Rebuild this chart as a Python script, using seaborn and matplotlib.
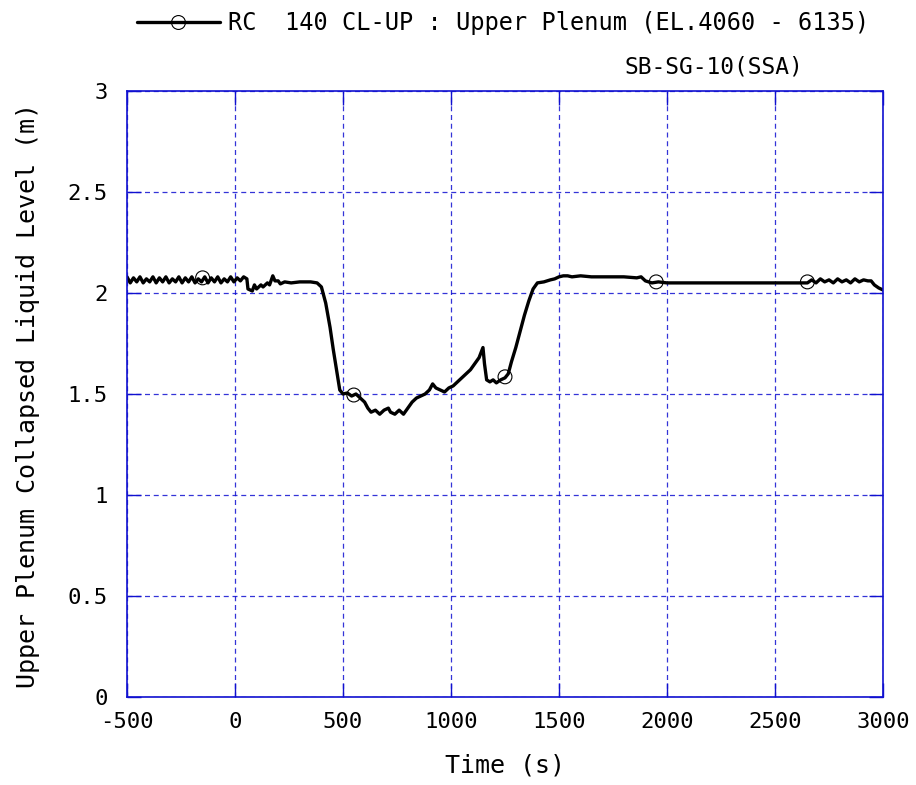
import numpy as np
import pandas as pd
import matplotlib
matplotlib.use("Agg")
import matplotlib.pyplot as plt
from matplotlib.lines import Line2D
import seaborn as sns

# ---- data ----
time_s = [-500, -485, -470, -455, -440, -425, -410, -395, -380, -365, -350, -335,
          -320, -305, -290, -275, -260, -245, -230, -215, -200, -185, -170, -155,
          -140, -125, -110, -95, -80, -65, -50, -35, -20, -5, 10, 25, 40, 55,
          60, 80, 90, 100, 120, 130, 150, 160, 175, 185, 200, 210, 230, 260, 300,
          350, 380, 400, 420, 440, 455, 470, 485, 500, 520, 540, 560, 580, 600,
          615, 630, 650, 670, 690, 710, 720, 740, 760, 780, 800, 820, 840, 860,
          880, 900, 915, 930, 950, 970, 990, 1010, 1030, 1050, 1070, 1090, 1110,
          1130, 1148, 1155, 1165, 1180, 1195, 1210, 1230, 1250, 1265, 1280, 1300,
          1320, 1340, 1360, 1380, 1400, 1430, 1460, 1480, 1500, 1520, 1540, 1560,
          1600, 1650, 1700, 1750, 1800, 1860, 1880, 1900, 1930, 1960, 2000, 2100,
          2200, 2300, 2400, 2500, 2600, 2650, 2670, 2690, 2710, 2730, 2750, 2770,
          2790, 2810, 2830, 2850, 2870, 2890, 2910, 2930, 2945, 2960, 2980, 3000]
level_m = [2.08, 2.05, 2.075, 2.055, 2.08, 2.05, 2.07, 2.055, 2.08, 2.05, 2.075, 2.055,
           2.08, 2.05, 2.07, 2.055, 2.08, 2.05, 2.075, 2.055, 2.08, 2.05, 2.07, 2.055,
           2.08, 2.05, 2.075, 2.055, 2.08, 2.05, 2.07, 2.055, 2.08, 2.055, 2.075, 2.06,
           2.08, 2.07,
           2.02, 2.01, 2.04, 2.02, 2.04, 2.03, 2.05, 2.04, 2.085, 2.06, 2.06, 2.045,
           2.055, 2.05, 2.055, 2.055, 2.05, 2.03, 1.95, 1.83, 1.72, 1.62, 1.52, 1.50,
           1.505, 1.49, 1.50, 1.48, 1.46, 1.43, 1.41, 1.42, 1.40, 1.42, 1.43, 1.41,
           1.40, 1.42, 1.40, 1.43, 1.46, 1.48, 1.49, 1.50, 1.52, 1.55, 1.53, 1.52,
           1.51, 1.53, 1.54, 1.56, 1.58, 1.60, 1.62, 1.65, 1.68, 1.73, 1.65, 1.57,
           1.56, 1.57, 1.555, 1.57, 1.58, 1.60, 1.66, 1.73, 1.81, 1.89, 1.96, 2.02,
           2.05, 2.055, 2.065, 2.07, 2.08, 2.085, 2.085, 2.08, 2.085, 2.08, 2.08,
           2.08, 2.08, 2.075, 2.08, 2.06, 2.05, 2.055, 2.05, 2.05, 2.05, 2.05, 2.05,
           2.05, 2.05, 2.05, 2.065, 2.05, 2.07, 2.055, 2.065, 2.05, 2.07, 2.055,
           2.065, 2.05, 2.07, 2.055, 2.065, 2.06, 2.06, 2.04, 2.025, 2.015]
marker_t = [-150, 550, 1250, 1950, 2650]
marker_v = [2.075, 1.495, 1.585, 2.055, 2.055]

x_ticks = [-500, 0, 500, 1000, 1500, 2000, 2500, 3000]
y_ticks = [0, 0.5, 1, 1.5, 2, 2.5, 3]
y_ticklabels = ["0", "0.5", "1", "1.5", "2", "2.5", "3"]
series_label = "RC  140 CL-UP : Upper Plenum (EL.4060 - 6135)"
case_label = "SB-SG-10(SSA)"

df = pd.DataFrame({"t": time_s, "v": level_m})
dfm = pd.DataFrame({"t": marker_t, "v": marker_v})

sns.set_theme(style="white")
plt.rcParams["font.family"] = ["DejaVu Sans Mono", "DejaVu Sans"]
plt.rcParams["text.color"] = "black"
plt.rcParams["axes.labelcolor"] = "black"

fig = plt.figure(figsize=(9.16, 7.85), dpi=100)
ax = fig.add_axes([127 / 916, 1 - 697 / 785, 756 / 916, 606 / 785])

blue = "#1010d0"
sns.lineplot(data=df, x="t", y="v", ax=ax, color="black", lw=2.4,
             estimator=None, sort=False, legend=False)
sns.scatterplot(data=dfm, x="t", y="v", ax=ax, marker="o", s=100,
                facecolor="none", edgecolor="black", linewidth=0.8,
                legend=False, zorder=5)

ax.set_xlim(-500, 3000)
ax.set_ylim(0, 3)
ax.set_xticks(x_ticks)
ax.set_xticklabels([str(v) for v in x_ticks], fontsize=16)
ax.set_yticks(y_ticks)
ax.set_yticklabels(y_ticklabels, fontsize=16)
ax.tick_params(direction="in", length=10, width=1, color=blue, labelcolor="black",
               top=True, right=True, bottom=True, left=True)
ax.tick_params(axis="x", pad=11)
ax.tick_params(axis="y", pad=14)
ax.grid(True, color=blue, linestyle=(0, (4, 3)), lw=0.9, alpha=0.85)
for sp in ax.spines.values():
    sp.set_color(blue)
    sp.set_linewidth(1.2)

ax.set_xlabel("Time (s)", fontsize=18)
ax.set_ylabel("Upper Plenum Collapsed Liquid Level (m)", fontsize=18)
ax.xaxis.set_label_coords(0.5, (697 - 765) / 606, transform=ax.transAxes)
ax.xaxis.label.set_va("center")
ax.yaxis.set_label_coords((28 - 127) / 756, 0.497, transform=ax.transAxes)
ax.yaxis.label.set_va("center")

handle = Line2D([], [], color="black", lw=2.4, marker="o", markersize=10,
                markerfacecolor="none", markeredgecolor="black", markeredgewidth=0.8)
fig.legend([handle], [series_label], loc="center left",
           bbox_to_anchor=(137 / 916, 1 - 23 / 785), frameon=False, fontsize=17,
           handlelength=3.5, handletextpad=0.35, borderaxespad=0, borderpad=0)
fig.text(803 / 916, 1 - 67 / 785, case_label, fontsize=16.5, ha="right", va="center")

fig.savefig("out.png", dpi=100)
